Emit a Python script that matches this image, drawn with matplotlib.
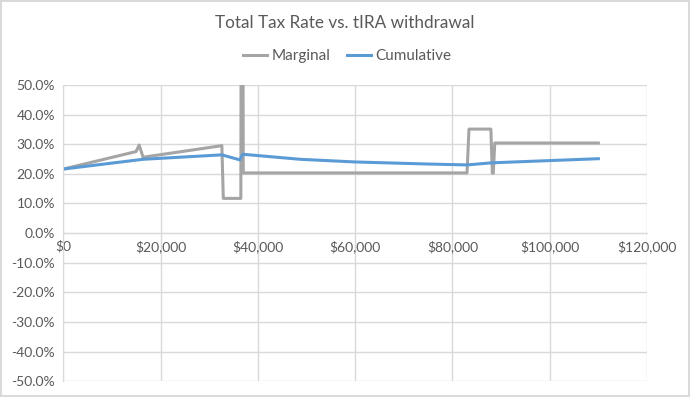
import numpy as np
import matplotlib.pyplot as plt
from matplotlib.ticker import FuncFormatter

# данные (tIRA withdrawal, $ -> ставка)
marg_x = [0, 14950, 15600, 16400, 32600, 32900, 36500, 36600, 36900, 37000,
          83000, 83400, 87900, 88200, 88400, 88700, 110000]
marg_y = [0.216, 0.275, 0.297, 0.256, 0.295, 0.117, 0.117, 1.0, 1.0, 0.203,
          0.203, 0.351, 0.351, 0.202, 0.202, 0.304, 0.304]

cum_x = [0, 16400, 32600, 36300, 36900, 48700, 60000, 75000, 83000, 88000, 110000]
cum_y = [0.216, 0.249, 0.264, 0.247, 0.266, 0.249, 0.240, 0.233, 0.230, 0.237, 0.251]

x_ticks = [0, 20000, 40000, 60000, 80000, 100000, 120000]
y_ticks = [-0.5, -0.4, -0.3, -0.2, -0.1, 0.0, 0.1, 0.2, 0.3, 0.4, 0.5]

plt.rcParams['font.family'] = ['Lato', 'DejaVu Sans']

grid_c = '#d9d9d9'
text_c = '#595959'

fig = plt.figure(figsize=(6.9, 3.97), dpi=100, edgecolor=grid_c, linewidth=1.5)
ax = fig.add_axes([0.0917, 0.040, 0.846, 0.746])

ax.plot(marg_x, marg_y, color='#a5a5a5', lw=2.2, label='Marginal', solid_joinstyle='round')
ax.plot(cum_x, cum_y, color='#5b9bd5', lw=2.2, label='Cumulative')

ax.set_xlim(0, 120000)
ax.set_ylim(-0.5, 0.5)
ax.set_xticks(x_ticks)
ax.set_yticks(y_ticks)
ax.xaxis.set_major_formatter(FuncFormatter(lambda v, p: f'${v:,.0f}'))
ax.yaxis.set_major_formatter(FuncFormatter(lambda v, p: f'{v*100:.1f}%'))

ax.grid(True, color=grid_c, lw=1)
ax.set_axisbelow(True)
for s in ['top', 'right']:
    ax.spines[s].set_visible(False)
ax.spines['bottom'].set_position(('data', 0))
ax.spines['bottom'].set_color(grid_c)
ax.spines['left'].set_color(grid_c)
ax.tick_params(length=0, labelsize=10, colors=text_c, pad=6)
ax.tick_params(axis='x', pad=5)

fig.text(0.5, 0.941, 'Total Tax Rate vs. tIRA withdrawal', ha='center', va='center',
         fontsize=12.3, color=text_c)
fig.legend(loc='center', bbox_to_anchor=(0.503, 0.859), ncol=2, frameon=False,
           fontsize=11, handlelength=1.6, columnspacing=1.1, handletextpad=0.25,
           labelcolor=text_c)

fig.savefig('out.png', dpi=100)
